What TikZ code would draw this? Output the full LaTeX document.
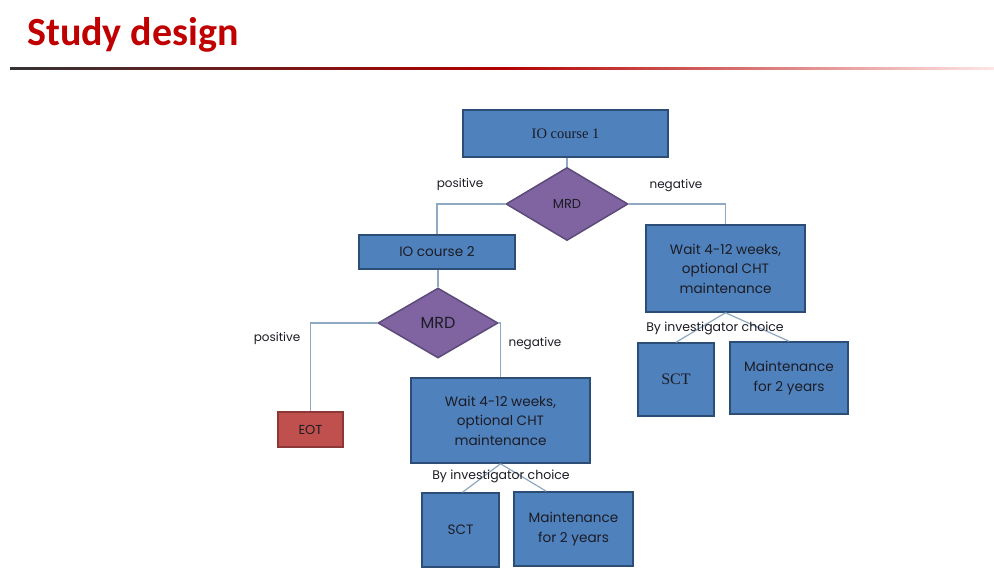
\documentclass[tikz,border=0pt]{standalone}
\usepackage{fontspec}
\setmainfont{Poppins}
\newfontfamily\titlefont{Carlito}
\newfontfamily\serifbox{Liberation Serif}
\usetikzlibrary{shapes.geometric,calc}
\definecolor{boxblue}{HTML}{4F81BD}
\definecolor{boxedge}{HTML}{2C4D75}
\definecolor{mrdfill}{HTML}{8064A2}
\definecolor{mrdedge}{HTML}{5C4A7A}
\definecolor{eotfill}{HTML}{C0504D}
\definecolor{eotedge}{HTML}{8C3836}
\definecolor{conn}{HTML}{8EA9C1}
\definecolor{titlered}{HTML}{C00000}
\definecolor{txt}{HTML}{1C1C24}
\tikzset{
  bluebox/.style={draw=boxedge, fill=boxblue, line width=1.5pt, inner sep=0pt, align=center, text=txt, font=\fontsize{13.6}{19.5}\selectfont},
  mrd/.style={diamond, draw=mrdedge, fill=mrdfill, line width=1.5pt, inner sep=0pt, aspect=1.67, minimum width=122pt, minimum height=73pt, text=txt, font=\fontsize{13}{15}\selectfont},
  eotbox/.style={draw=eotedge, fill=eotfill, line width=1.5pt, inner sep=0pt, text=txt, font=\fontsize{13}{15}\selectfont},
  link/.style={draw=conn, line width=1.2pt},
  lbl/.style={text=txt, inner sep=0pt, font=\fontsize{12}{14}\selectfont}
}
\begin{document}
\begin{tikzpicture}[x=1pt, y=-1pt]
\useasboundingbox[fill=white] (0,0) rectangle (994,571);
% title
\node[anchor=base west, inner sep=0pt, text=titlered, font=\titlefont\bfseries\fontsize{40}{46}\selectfont] (title) at (27,45) {Study design};
\shade[left color=black!80, right color=red!10, middle color=red!70!black] (10,67.5) rectangle (994,69.5);
% top level
\node[bluebox, minimum width=205pt, minimum height=47pt, font=\serifbox\fontsize{14.5}{16}\selectfont] (io1) at (565.5,133.5) {IO course 1};
\node[mrd] (mrd1) at (567,204) {MRD};
\node[bluebox, minimum width=156pt, minimum height=34pt] (io2) at (437,252) {IO course 2};
\node[bluebox, minimum width=159pt, minimum height=87pt] (wait1) at (725.5,268.5) {Wait 4-12 weeks,\\optional CHT\\maintenance};
\node[mrd, minimum width=120pt, minimum height=70pt, font=\fontsize{16}{18}\selectfont] (mrd2) at (438,323) {MRD};
\node[eotbox, minimum width=65pt, minimum height=35pt] (eot) at (310.5,429.5) {EOT};
\node[bluebox, minimum width=179pt, minimum height=85pt] (wait2) at (500.5,420.5) {Wait 4-12 weeks,\\optional CHT\\maintenance};
\node[bluebox, minimum width=76pt, minimum height=73pt, font=\serifbox\fontsize{16}{18}\selectfont] (sct1) at (676,379.5) {SCT};
\node[bluebox, minimum width=118pt, minimum height=72pt] (maint1) at (789,378) {Maintenance\\for 2 years};
\node[bluebox, minimum width=77pt, minimum height=74pt] (sct2) at (460.5,530) {SCT};
\node[bluebox, minimum width=119pt, minimum height=74pt] (maint2) at (573.5,529) {\raisebox{9pt}{\parbox{100pt}{\centering Maintenance\\for 2 years}}};
% connectors
\path[link] (mrd1.north |- io1.south) -- (mrd1.north);
\path[link] (mrd1.west) -| (io2.north);
\path[link] (mrd1.east) -| (wait1.north);
\path[link] (mrd2.north |- io2.south) -- (mrd2.north);
\path[link] (mrd2.west) -| (eot.north);
\path[link] (mrd2.east) -| (wait2.north);
\path[link] (wait1.south) -- (sct1.north);
\path[link] (wait1.south) -- (maint1.north);
\path[link] (wait2.south) -- ([xshift=2pt]sct2.north);
\path[link] (wait2.south) -- ([xshift=33pt]maint2.north west);
% labels
\node[lbl] (pos1) at (460,184) {positive};
\node[lbl] (neg1) at (676,186) {negative};
\node[lbl] (pos2) at (277,338) {positive};
\node[lbl] (neg2) at (535,344) {negative};
\node[lbl, font=\fontsize{12.5}{15}\selectfont] (by1) at (715,328) {By investigator choice};
\node[lbl, font=\fontsize{12.5}{15}\selectfont] (by2) at (501,476) {By investigator choice};
\end{tikzpicture}
\end{document}
